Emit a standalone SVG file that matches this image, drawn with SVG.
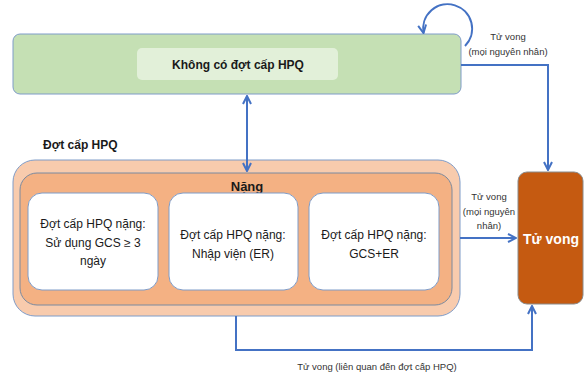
<svg xmlns="http://www.w3.org/2000/svg" width="584" height="374" viewBox="0 0 584 374">
<style>
text{font-family:"Liberation Sans",Arial,sans-serif;fill:#1a1a1a}
.b{font-weight:bold}
.box{font-size:12px}
.sm{font-size:9.5px;fill:#333}
.con{fill:none;stroke:#4472c4;stroke-width:2}
</style>
<defs>
<marker id="ah" viewBox="0 0 10 10" refX="9" refY="5" markerWidth="5" markerHeight="5" orient="auto-start-reverse" markerUnits="strokeWidth">
<path d="M1,1 L9,5 L1,9" fill="none" stroke="#4472c4" stroke-width="2"/>
</marker>
</defs>
<rect width="584" height="374" fill="#fff"/>
<g id="khong-co">
<rect x="13" y="34" width="448" height="60" rx="7" fill="#c5e0b4" stroke="#7f9cc8" stroke-width="1"/>
<rect x="137" y="48" width="201" height="32" rx="5" fill="#e2f0d9"/>
<text class="b" x="238" y="69" font-size="12" text-anchor="middle">Không có đợt cấp HPQ</text>
</g>
<g id="dot-cap">
<text class="b" x="43" y="149" font-size="12">Đợt cấp HPQ</text>
<rect x="13" y="160" width="447" height="156" rx="22" fill="#f8cbad" stroke="#7f9cc8" stroke-width="1"/>
<rect x="20" y="173" width="432" height="132" rx="17" fill="#f4b183" stroke="#7a8aa0" stroke-width="1"/>
<text class="b" x="247" y="191" font-size="13" text-anchor="middle">Nặng</text>
</g>
<g id="gcs">
<rect x="28" y="193" width="130" height="97" rx="14" fill="#fff" stroke="#7f9cc8" stroke-width="1"/>
<text class="box" x="93" y="228" text-anchor="middle">Đợt cấp HPQ nặng:</text>
<text class="box" x="93" y="247" text-anchor="middle">Sử dụng GCS ≥ 3</text>
<text class="box" x="93" y="265" text-anchor="middle">ngày</text>
</g>
<g id="nhap-vien">
<rect x="169" y="193" width="129" height="97" rx="14" fill="#fff" stroke="#7f9cc8" stroke-width="1"/>
<text class="box" x="233" y="239" text-anchor="middle">Đợt cấp HPQ nặng:</text>
<text class="box" x="233" y="258" text-anchor="middle">Nhập viện (ER)</text>
</g>
<g id="gcs-er">
<rect x="309" y="193" width="130" height="97" rx="14" fill="#fff" stroke="#7f9cc8" stroke-width="1"/>
<text class="box" x="374" y="239" text-anchor="middle">Đợt cấp HPQ nặng:</text>
<text class="box" x="374" y="258" text-anchor="middle">GCS+ER</text>
</g>
<g id="tu-vong">
<rect x="518" y="172" width="65" height="132" rx="9" fill="#c55a11" stroke="#8a8a8a" stroke-width="1"/>
<text class="b" x="551" y="244" font-size="14" text-anchor="middle" style="fill:#fff">Tử vong</text>
</g>
<g id="connectors">
<path class="con" d="M465,46 A24.5,24.5 0 1 0 423.5,33" marker-end="url(#ah)"/>
<path class="con" d="M461,65 H548 V170" marker-end="url(#ah)"/>
<path class="con" d="M247,96 V171" marker-start="url(#ah)" marker-end="url(#ah)"/>
<path class="con" d="M460,238 H516" marker-end="url(#ah)"/>
<path class="con" d="M236,316 V350 H532 V306" marker-end="url(#ah)"/>
<text class="sm" x="508" y="40" text-anchor="middle">Tử vong</text>
<text class="sm" x="508" y="55" text-anchor="middle">(mọi nguyên nhân)</text>
<text class="sm" x="489" y="200" text-anchor="middle">Tử vong</text>
<text class="sm" x="489" y="215" text-anchor="middle">(mọi nguyên</text>
<text class="sm" x="489" y="229" text-anchor="middle">nhân)</text>
<text class="sm" x="377" y="370" text-anchor="middle">Tử vong (liên quan đến đợt cấp HPQ)</text>
</g>
</svg>
